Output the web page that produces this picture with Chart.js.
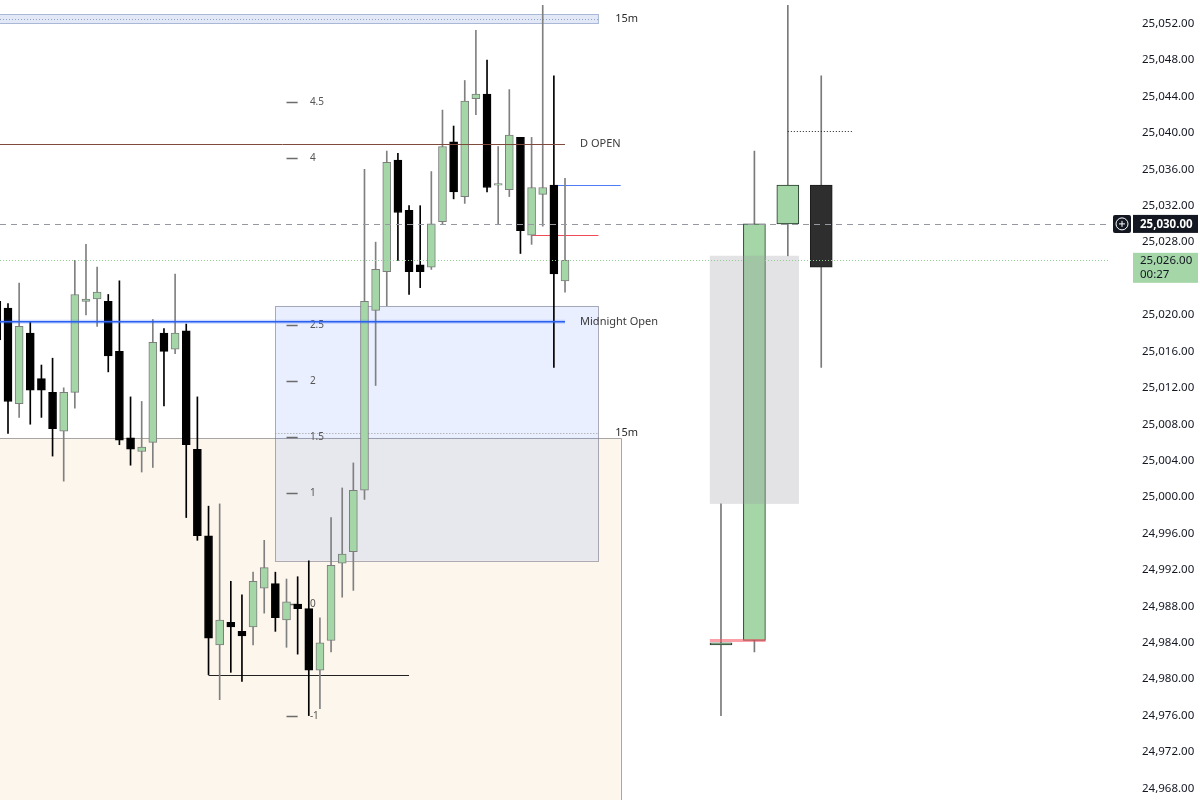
<!DOCTYPE html>
<html>
<head>
<meta charset="utf-8">
<script src="https://cdn.jsdelivr.net/npm/chart.js@4.4.1/dist/chart.umd.min.js"></script>
<style>
  html, body { margin: 0; padding: 0; background: #ffffff; }
  #wrap { width: 1200px; height: 800px; position: relative; }
</style>
</head>
<body>
<div id="wrap"><canvas id="c"></canvas></div>
<script>
// ---- 1-minute bars (slot = bar index on the time axis) ----
const minuteSlots = [-1, 0, 1, 2, 3, 4, 5, 6, 7, 8, 9, 10, 11, 12, 13, 14, 15, 16, 17, 18, 19, 20,
  21, 22, 23, 24, 25, 26, 27, 28, 29, 30, 31, 32, 33, 34, 35, 36, 37, 38, 39, 40, 41, 42, 43, 44,
  45, 46, 47, 48, 49, 50];
const minuteOpen = [25021.5, 25020.75, 25010.25, 25018.0, 25013.0, 25011.5, 25007.25, 25011.5, 25021.5,
  25021.75, 25021.5, 25016.0, 25006.5, 25005.0, 25006.0, 25018.0, 25016.25, 25018.25, 25005.25,
  24995.75, 24983.75, 24986.25, 24985.25, 24985.75, 24990.0, 24990.5, 24986.5, 24988.25, 24987.75,
  24981.0, 24984.25, 24992.75, 24994.0, 25000.75, 25020.5, 25024.75, 25037.0, 25031.5, 25025.5,
  25025.25, 25030.25, 25039.0, 25033.0, 25043.75, 25044.25, 25034.25, 25033.75, 25039.5, 25028.75,
  25033.25, 25034.25, 25023.75];
const minuteHigh = [25022.5, 25021.25, 25023.5, 25019.25, 25014.5, 25015.25, 25012.0, 25026.0, 25027.75,
  25025.25, 25022.25, 25023.75, 25011.0, 25010.5, 25019.5, 25018.5, 25024.5, 25019.0, 25011.0,
  24999.0, 24999.25, 24990.75, 24989.25, 24991.75, 24995.25, 24991.75, 24991.0, 24991.25, 24993.0,
  24986.75, 24997.75, 25001.0, 25003.75, 25036.0, 25028.0, 25038.0, 25037.75, 25032.0, 25032.0,
  25035.75, 25042.5, 25040.75, 25045.75, 25051.25, 25048.0, 25038.5, 25044.75, 25039.5, 25039.5,
  25054.0, 25046.25, 25035.0];
const minuteLow = [25016.75, 25007.0, 25008.75, 25008.0, 25008.75, 25004.5, 25001.75, 25009.75, 25020.0,
  25018.75, 25013.75, 25005.75, 25003.5, 25002.75, 25003.25, 25010.0, 25015.75, 24997.75, 24995.25,
  24980.5, 24977.75, 24980.75, 24979.75, 24983.75, 24987.25, 24985.25, 24983.5, 24982.75, 24976.0,
  24976.75, 24983.0, 24989.0, 24989.75, 24999.75, 25012.25, 25021.0, 25026.0, 25022.25, 25023.0,
  25025.0, 25030.0, 25032.75, 25032.25, 25042.0, 25033.5, 25030.0, 25033.0, 25026.75, 25027.75,
  25029.75, 25014.25, 25022.5];
const minuteClose = [25017.25, 25010.5, 25018.75, 25011.75, 25011.75, 25007.5, 25011.5, 25022.25, 25021.75,
  25022.5, 25015.5, 25006.25, 25005.25, 25005.5, 25017.0, 25016.0, 25018.0, 25005.75, 24995.75,
  24984.5, 24986.5, 24985.75, 24984.75, 24990.75, 24992.25, 24986.75, 24988.5, 24987.75, 24981.0,
  24984.0, 24992.5, 24993.75, 25000.75, 25021.5, 25025.0, 25036.75, 25031.25, 25024.75, 25024.75,
  25030.0, 25038.5, 25033.5, 25043.5, 25044.25, 25034.0, 25034.25, 25039.75, 25029.25, 25034.0,
  25034.0, 25024.5, 25026.0];

// ---- higher-timeframe bars drawn to the right of the 1-minute bars ----
const htfSlots = [64, 67, 70, 73];
const htfOpen  = [24983.75, 24984.25, 25030.0, 25034.25];
const htfHigh  = [24999.25, 25038.0, 25054.0, 25046.25];
const htfLow   = [24976.0, 24983.0, 25026.5, 25014.25];
const htfClose = [24984.0, 25030.0, 25034.25, 25025.25];

// ---- price axis ----
const priceTicks = [25052, 25048, 25044, 25040, 25036, 25032, 25028, 25024, 25020, 25016, 25012,
  25008, 25004, 25000, 24996, 24992, 24988, 24984, 24980, 24976, 24972, 24968];
const priceMin = 24966.73;
const priceMax = 25054.59;
const slotMin = -0.718;
const slotMax = 98.92;

// ---- levels and drawings ----
const dailyOpen = 25038.75;
const midnightOpen = 25019.25;
const lastPrice = 25026.0;
const crosshairPrice = 25030.0;
const countdown = '00:27';
const fibRatios = [4.5, 4, 2.5, 2, 1.5, 1, 0, -1];
const fibZero = 24988.25;
const fibOne = 25000.5;
const fibBoxTop = 25021.0, fibBoxBottom = 24993.0;
const fvgTop = 25053.0, fvgBottom = 25052.0;
const zoneTop = 25006.5;
const zoneInnerLine = 25007.0;
const swingLow = 24980.5;
const barOpenLine = 25034.25;
const redLevel = 25028.75;
const htfBoxTop = 25026.5, htfBoxBottom = 24999.25;
const htfOpenLine = 24984.25;
const dottedLevel = 25040.25;

const fmt = v => v.toLocaleString('en-US', { minimumFractionDigits: 2, maximumFractionDigits: 2 });

const UP = '#a5d6a7';
const minuteUp = minuteSlots.map((_, i) => minuteClose[i] >= minuteOpen[i]);
const htfUp = htfSlots.map((_, i) => htfClose[i] >= htfOpen[i]);

function spans(slots, a, b) {
  return slots.map((s, i) => ({ x: s, y: [a[i], b[i]] }));
}

const FONT = 'Noto Sans, Liberation Sans, sans-serif';

// drawings behind the candles
function drawUnder(chart) {
  const { ctx, chartArea: ca, scales: { x, y } } = chart;
  const X = v => x.getPixelForValue(v);
  const Y = v => y.getPixelForValue(v);
  ctx.save();
  ctx.beginPath();
  ctx.rect(ca.left, ca.top, ca.right - ca.left, ca.bottom - ca.top);
  ctx.clip();

  // session zone
  const zx1 = X(55), zy = Y(zoneTop);
  ctx.fillStyle = '#fdf6ec';
  ctx.fillRect(ca.left, zy, zx1 - ca.left, ca.bottom - zy);
  ctx.strokeStyle = '#a6a6a6';
  ctx.lineWidth = 1;
  ctx.beginPath();
  ctx.moveTo(ca.left, Math.round(zy) + 0.5);
  ctx.lineTo(Math.round(zx1) + 0.5, Math.round(zy) + 0.5);
  ctx.lineTo(Math.round(zx1) + 0.5, ca.bottom);
  ctx.stroke();

  // 15m gap box at the top
  const fx1 = X(53), fyT = Y(fvgTop), fyB = Y(fvgBottom);
  ctx.fillStyle = 'rgba(190,205,235,0.45)';
  ctx.fillRect(ca.left, fyT, fx1 - ca.left, fyB - fyT);
  ctx.strokeStyle = '#a9b8d6';
  ctx.strokeRect(ca.left - 1, Math.round(fyT) + 0.5, fx1 - ca.left + 1, Math.round(fyB - fyT));
  ctx.setLineDash([1, 2]);
  ctx.strokeStyle = '#8fa3cc';
  ctx.beginPath();
  ctx.moveTo(ca.left, Math.round((fyT + fyB) / 2) + 0.5);
  ctx.lineTo(fx1, Math.round((fyT + fyB) / 2) + 0.5);
  ctx.stroke();
  ctx.setLineDash([]);

  // fib box
  const bx0 = X(24), bx1 = X(53), by0 = Y(fibBoxTop), by1 = Y(fibBoxBottom);
  ctx.fillStyle = 'rgba(41,98,255,0.10)';
  ctx.fillRect(bx0, by0, bx1 - bx0, by1 - by0);
  ctx.strokeStyle = 'rgba(120,120,140,0.6)';
  ctx.strokeRect(Math.round(bx0) + 0.5, Math.round(by0) + 0.5, Math.round(bx1 - bx0), Math.round(by1 - by0));

  // dotted level inside the zone
  ctx.setLineDash([1, 2]);
  ctx.strokeStyle = '#9a9a9a';
  ctx.beginPath();
  ctx.moveTo(bx0, Math.round(Y(zoneInnerLine)) + 0.5);
  ctx.lineTo(bx1, Math.round(Y(zoneInnerLine)) + 0.5);
  ctx.stroke();
  ctx.setLineDash([]);

  // fib ticks and ratios
  const unit = fibOne - fibZero;
  ctx.font = '10px ' + FONT;
  ctx.textBaseline = 'middle';
  ctx.textAlign = 'left';
  fibRatios.forEach(r => {
    const yy = Math.round(Y(fibZero + r * unit)) + 0.5;
    ctx.strokeStyle = '#6b6b6b';
    ctx.lineWidth = 1.5;
    ctx.beginPath();
    ctx.moveTo(X(25), yy);
    ctx.lineTo(X(26), yy);
    ctx.stroke();
    ctx.fillStyle = '#555555';
    ctx.fillText(String(r), X(27.1), yy);
  });
  ctx.lineWidth = 1;

  // swing low marker
  ctx.strokeStyle = '#222222';
  ctx.beginPath();
  ctx.moveTo(X(18), Math.round(Y(swingLow)) + 0.5);
  ctx.lineTo(X(36), Math.round(Y(swingLow)) + 0.5);
  ctx.stroke();

  // short level lines
  ctx.strokeStyle = '#4f7cf6';
  ctx.beginPath();
  ctx.moveTo(X(49), Math.round(Y(barOpenLine)) + 0.5);
  ctx.lineTo(X(55), Math.round(Y(barOpenLine)) + 0.5);
  ctx.stroke();
  ctx.strokeStyle = '#f04a58';
  ctx.beginPath();
  ctx.moveTo(X(47), Math.round(Y(redLevel)) + 0.5);
  ctx.lineTo(X(53), Math.round(Y(redLevel)) + 0.5);
  ctx.stroke();

  ctx.restore();
}

// drawings above the candles
function drawOver(chart) {
  const { ctx, chartArea: ca, scales: { x, y } } = chart;
  const X = v => x.getPixelForValue(v);
  const Y = v => y.getPixelForValue(v);
  ctx.save();
  ctx.beginPath();
  ctx.rect(ca.left, ca.top, ca.right - ca.left, ca.bottom - ca.top);
  ctx.clip();

  // daily open
  ctx.strokeStyle = '#7d4a3c';
  ctx.lineWidth = 1;
  ctx.beginPath();
  ctx.moveTo(ca.left, Math.round(Y(dailyOpen)) + 0.5);
  ctx.lineTo(X(50), Math.round(Y(dailyOpen)) + 0.5);
  ctx.stroke();

  // midnight open
  ctx.strokeStyle = 'rgba(41,98,255,0.22)';
  ctx.lineWidth = 4;
  ctx.beginPath();
  ctx.moveTo(ca.left, Y(midnightOpen));
  ctx.lineTo(X(50), Y(midnightOpen));
  ctx.stroke();
  ctx.strokeStyle = '#2a5ff0';
  ctx.lineWidth = 1.6;
  ctx.beginPath();
  ctx.moveTo(ca.left, Y(midnightOpen));
  ctx.lineTo(X(50), Y(midnightOpen));
  ctx.stroke();
  ctx.lineWidth = 1;

  // higher-timeframe range box
  const gx0 = X(63), gx1 = X(71), gy0 = Y(htfBoxTop), gy1 = Y(htfBoxBottom);
  ctx.fillStyle = 'rgba(150,153,162,0.27)';
  ctx.fillRect(gx0, gy0, gx1 - gx0, gy1 - gy0);

  // open marker of the big bar
  ctx.strokeStyle = 'rgba(247,82,95,0.55)';
  ctx.lineWidth = 3;
  ctx.beginPath();
  ctx.moveTo(X(63), Y(htfOpenLine));
  ctx.lineTo(X(68), Y(htfOpenLine));
  ctx.stroke();
  ctx.lineWidth = 1;

  // dotted level
  ctx.setLineDash([1, 2]);
  ctx.strokeStyle = '#222222';
  ctx.beginPath();
  ctx.moveTo(X(70), Math.round(Y(dottedLevel)) + 0.5);
  ctx.lineTo(X(75.8), Math.round(Y(dottedLevel)) + 0.5);
  ctx.stroke();

  // last price line
  ctx.strokeStyle = '#8fcf93';
  ctx.setLineDash([1, 2]);
  ctx.beginPath();
  ctx.moveTo(ca.left, Math.round(Y(lastPrice)) + 0.5);
  ctx.lineTo(ca.right, Math.round(Y(lastPrice)) + 0.5);
  ctx.stroke();

  // crosshair
  ctx.strokeStyle = '#9598a1';
  ctx.setLineDash([6, 5]);
  ctx.beginPath();
  ctx.moveTo(ca.left, Math.round(Y(crosshairPrice)) + 0.5);
  ctx.lineTo(ca.right, Math.round(Y(crosshairPrice)) + 0.5);
  ctx.stroke();
  ctx.setLineDash([]);

  // level captions
  ctx.font = '11px ' + FONT;
  ctx.textBaseline = 'middle';
  ctx.textAlign = 'left';
  ctx.fillStyle = '#3a3a3a';
  ctx.fillText('D OPEN', X(51.35), Y(dailyOpen));
  ctx.fillText('Midnight Open', X(51.35), Y(midnightOpen));
  ctx.fillStyle = '#2a2a2a';
  ctx.fillText('15m', X(54.5), (Y(fvgTop) + Y(fvgBottom)) / 2);
  ctx.fillText('15m', X(54.5), Y(zoneInnerLine));

  ctx.restore();
}

// price-axis badges
function drawBadges(chart) {
  const { ctx, chartArea: ca, scales: { y } } = chart;
  const left = ca.right + 23, w = 65;
  ctx.save();
  ctx.textBaseline = 'middle';
  ctx.textAlign = 'left';

  // crosshair badge
  const cy = y.getPixelForValue(crosshairPrice);
  ctx.fillStyle = '#131722';
  ctx.fillRect(left, cy - 9, w, 18);
  ctx.beginPath();
  ctx.roundRect(ca.right + 3, cy - 9, 18, 18, 2);
  ctx.fill();
  ctx.strokeStyle = '#ffffff';
  ctx.lineWidth = 1;
  ctx.beginPath();
  ctx.arc(ca.right + 12, cy, 6, 0, Math.PI * 2);
  ctx.stroke();
  ctx.beginPath();
  ctx.moveTo(ca.right + 9, cy); ctx.lineTo(ca.right + 15, cy);
  ctx.moveTo(ca.right + 12, cy - 3); ctx.lineTo(ca.right + 12, cy + 3);
  ctx.stroke();
  ctx.fillStyle = '#ffffff';
  ctx.font = 'bold 11.5px ' + FONT;
  ctx.fillText(fmt(crosshairPrice), left + 7, cy + 0.5);

  // last price badge
  const ly = y.getPixelForValue(lastPrice);
  ctx.fillStyle = UP;
  ctx.fillRect(left, ly - 7.5, w, 30);
  ctx.fillStyle = '#131722';
  ctx.font = '11.5px ' + FONT;
  ctx.fillText(fmt(lastPrice), left + 7, ly);
  ctx.fillText(countdown, left + 7, ly + 14);
  ctx.restore();
}

const overlays = {
  id: 'overlays',
  beforeDatasetsDraw: drawUnder,
  afterDatasetsDraw: drawOver,
  afterDraw: drawBadges
};

new Chart(document.getElementById('c'), {
  type: 'bar',
  data: {
    datasets: [
      {
        data: spans(minuteSlots, minuteLow, minuteHigh),
        backgroundColor: minuteUp.map(u => u ? '#808080' : '#000000'),
        barThickness: 1, grouped: false, order: 4
      },
      {
        data: spans(minuteSlots, minuteOpen, minuteClose),
        backgroundColor: minuteUp.map(u => u ? UP : '#000000'),
        borderColor: minuteUp.map(u => u ? '#7d7d7d' : '#000000'),
        borderWidth: 1, borderSkipped: false, minBarLength: 1.5,
        barThickness: 8, grouped: false, order: 3
      },
      {
        data: spans(htfSlots, htfLow, htfHigh),
        backgroundColor: '#7a7a7a',
        barThickness: 1, grouped: false, order: 2
      },
      {
        data: spans(htfSlots, htfOpen, htfClose),
        backgroundColor: htfUp.map(u => u ? UP : '#2e2e2e'),
        borderColor: htfUp.map(u => u ? '#24382a' : '#1c1c1c'),
        borderWidth: 1, borderSkipped: false, minBarLength: 1.5,
        barThickness: 22, grouped: false, order: 1
      }
    ]
  },
  options: {
    responsive: true,
    maintainAspectRatio: false,
    animation: false,
    events: [],
    layout: { padding: 0 },
    plugins: { legend: { display: false }, tooltip: { enabled: false }, title: { display: false } },
    scales: {
      x: {
        type: 'linear', min: slotMin, max: slotMax, offset: false, display: false,
        grid: { display: false }
      },
      y: {
        position: 'right', min: priceMin, max: priceMax,
        grid: { display: false, drawTicks: false, tickLength: 0 },
        border: { display: false },
        afterBuildTicks: s => { s.ticks = priceTicks.map(v => ({ value: v })); },
        // fixed-width price scale, plot runs edge to edge vertically
        afterFit: s => {
          s.width = 90;
          s.paddingTop = 0; s.paddingBottom = 0;
          s.paddingLeft = 0; s.paddingRight = 0;
        },
        ticks: {
          autoSkip: false, padding: 32, crossAlign: 'near', color: '#131722',
          font: { family: FONT, size: 11.5 },
          // the countdown badge sits over the next label down
          callback: v => (v < lastPrice && lastPrice - v < 3) ? '' : fmt(v)
        }
      }
    }
  },
  plugins: [overlays]
});
</script>
</body>
</html>
